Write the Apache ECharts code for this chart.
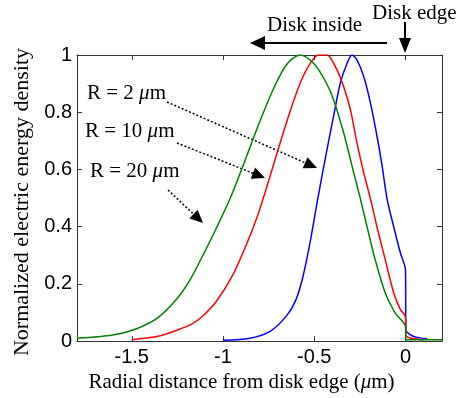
<!DOCTYPE html>
<html>
<head>
<meta charset="utf-8">
<script src="https://cdn.jsdelivr.net/npm/echarts@6/dist/echarts.min.js"></script>
<style>
  html, body { margin: 0; padding: 0; background: #fff; }
  #myChart { width: 459px; height: 398px; }
</style>
</head>
<body>
<div id="myChart"></div>
<script>
// tick positions
var xTicks = [-1.5, -1, -0.5, 0]
var yTicks = [0, 0.2, 0.4, 0.6, 0.8, 1]

// R = 2 um (blue)
var blueX = [-1.0, -0.852, -0.742, -0.65, -0.6, -0.56, -0.52, -0.48, -0.43, -0.394, -0.357, -0.32, -0.293, -0.266, -0.229, -0.192, -0.156, -0.128, -0.101, -0.064, -0.027, 0, 0.002, 0.027, 0.064, 0.119]
var blueY = [0.003, 0.01, 0.034, 0.09, 0.145, 0.23, 0.355, 0.5, 0.67, 0.786, 0.902, 0.971, 1.0, 0.983, 0.925, 0.832, 0.716, 0.612, 0.497, 0.398, 0.306, 0.248, 0.04, 0.022, 0.013, 0.008]

// R = 10 um (red)
var redX = [-1.5, -1.363, -1.253, -1.17, -1.115, -1.035, -0.943, -0.87, -0.815, -0.769, -0.705, -0.641, -0.577, -0.522, -0.476, -0.43, -0.385, -0.339, -0.302, -0.266, -0.229, -0.192, -0.156, -0.11, -0.064, -0.027, 0, 0.002, 0.1]
var redY = [0.005, 0.016, 0.038, 0.06, 0.085, 0.14, 0.235, 0.34, 0.43, 0.52, 0.655, 0.786, 0.902, 0.971, 1.0, 1.0, 0.96, 0.89, 0.809, 0.693, 0.589, 0.497, 0.398, 0.282, 0.167, 0.109, 0.086, 0.02, 0.005]

// R = 20 um (green)
var greenX = [-1.8, -1.69, -1.58, -1.47, -1.36, -1.25, -1.18, -1.11, -1.04, -0.96, -0.88, -0.8, -0.714, -0.65, -0.577, -0.504, -0.44, -0.394, -0.339, -0.293, -0.247, -0.21, -0.165, -0.11, -0.055, 0, 0.002, 0.2]
var greenY = [0.01, 0.015, 0.024, 0.044, 0.08, 0.15, 0.215, 0.3, 0.39, 0.5, 0.63, 0.765, 0.895, 0.968, 1.0, 0.971, 0.91, 0.844, 0.728, 0.612, 0.497, 0.398, 0.282, 0.167, 0.097, 0.051, 0.005, 0.005]

function zip(xs, ys) {
  var out = []
  for (var i = 0; i < xs.length; i++) {
    out.push([xs[i], ys[i]])
  }
  return out
}

var SERIF = '"Liberation Serif", "Times New Roman", serif'
var SANS = '"Liberation Sans", Arial, sans-serif'
var AXIS_COLOR = '#333'

// arrow = line from (x1,y1) to the base of a filled triangle head at (x2,y2)
function arrow(x1, y1, x2, y2, dash, len, half, width) {
  var dx = x2 - x1, dy = y2 - y1
  var d = Math.sqrt(dx * dx + dy * dy)
  var ux = dx / d, uy = dy / d
  var bx = x2 - ux * len, by = y2 - uy * len
  return [
    {
      type: 'line',
      shape: {x1: x1, y1: y1, x2: bx, y2: by},
      style: {stroke: '#000', lineWidth: width, lineDash: dash ? [2, 2] : null}
    },
    {
      type: 'polygon',
      shape: {points: [[x2, y2], [bx - uy * half, by + ux * half], [bx + uy * half, by - ux * half]]},
      style: {fill: '#000'}
    }
  ]
}

var italicMu = {i: {fontFamily: SERIF, fontSize: 21, fontStyle: 'italic', color: '#000', fill: '#000'}}

function label(x, y, pre) {
  return {
    type: 'text',
    x: x,
    y: y,
    style: {
      text: pre + '{i|\u03bc}m',
      font: '21px ' + SERIF,
      fill: '#000',
      verticalAlign: 'middle',
      rich: italicMu
    }
  }
}

var graphics = []
  .concat(arrow(387, 43, 250, 43, false, 15, 7, 2))
  .concat(arrow(405, 22, 405, 53, false, 15, 6, 2))
  .concat(arrow(167, 102, 317, 168, true, 13, 6, 1.5))
  .concat(arrow(177, 143, 265, 178, true, 13, 6, 1.5))
  .concat(arrow(168, 190, 203, 223, true, 13, 6, 1.5))
  .concat([
    {type: 'text', x: 267, y: 25, style: {text: 'Disk inside', font: '21px ' + SERIF, fill: '#000', verticalAlign: 'middle'}},
    {type: 'text', x: 372, y: 13, style: {text: 'Disk edge', font: '21px ' + SERIF, fill: '#000', verticalAlign: 'middle'}},
    label(87, 93, 'R = 2 '),
    label(85, 131, 'R = 10 '),
    label(90, 171, 'R = 20 ')
  ])

var tickStyle = {inside: true, length: 5, lineStyle: {color: AXIS_COLOR}}
var lineStyleAxis = {onZero: false, lineStyle: {color: AXIS_COLOR, width: 1}}

function curve(name, xs, ys, color) {
  return {
    type: 'line',
    name: name,
    data: zip(xs, ys),
    showSymbol: false,
    smooth: 0.3,
    lineStyle: {color: color, width: 1.5},
    itemStyle: {color: color}
  }
}

var option = {
  animation: false,
  backgroundColor: '#fff',
  grid: {left: 77, right: 17, top: 55, bottom: 55},
  xAxis: [
    {
      type: 'value', min: -1.8, max: 0.2, position: 'bottom',
      name: 'Radial distance from disk edge ({i|\u03bc}m)',
      nameLocation: 'middle', nameGap: 28,
      nameTextStyle: {fontFamily: SERIF, fontSize: 21, color: '#000', verticalAlign: 'top', padding: [0, 36, 0, 0], rich: italicMu},
      axisLine: lineStyleAxis,
      axisTick: Object.assign({customValues: xTicks}, tickStyle),
      axisLabel: {customValues: xTicks, fontFamily: SANS, fontSize: 20, color: '#000', margin: 6},
      splitLine: {show: false}
    },
    {
      type: 'value', min: -1.8, max: 0.2, position: 'top',
      axisLine: lineStyleAxis,
      axisTick: Object.assign({customValues: xTicks}, tickStyle),
      axisLabel: {show: false},
      splitLine: {show: false}
    }
  ],
  yAxis: [
    {
      type: 'value', min: 0, max: 1, interval: 0.2, position: 'left',
      name: 'Normalized electric energy density',
      nameLocation: 'middle', nameGap: 42, nameRotate: 90,
      nameTextStyle: {fontFamily: SERIF, fontSize: 22, color: '#000', padding: [0, 8, 0, 0]},
      axisLine: lineStyleAxis,
      axisTick: tickStyle,
      axisLabel: {fontFamily: SANS, fontSize: 20, color: '#000', margin: 5},
      splitLine: {show: false}
    },
    {
      type: 'value', min: 0, max: 1, interval: 0.2, position: 'right',
      axisLine: lineStyleAxis,
      axisTick: tickStyle,
      axisLabel: {show: false},
      splitLine: {show: false}
    }
  ],
  series: [
    curve('R = 2', blueX, blueY, '#0000ff'),
    curve('R = 10', redX, redY, '#ff0000'),
    curve('R = 20', greenX, greenY, '#008000')
  ],
  graphic: graphics
}

var myChart = echarts.init(document.getElementById('myChart'))
myChart.setOption(option)
</script>
</body>
</html>
